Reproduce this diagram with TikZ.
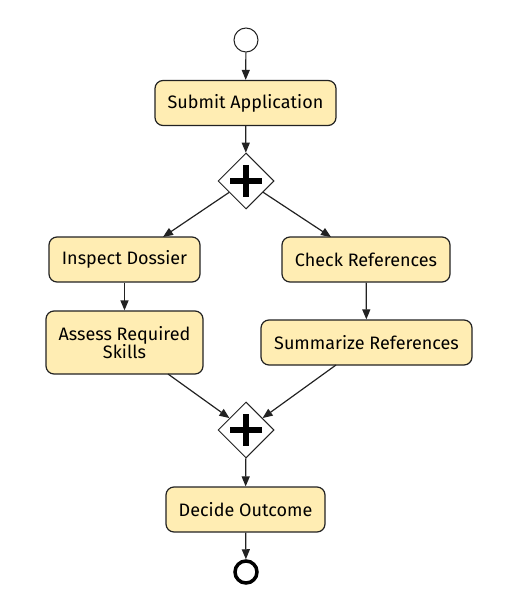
\documentclass[tikz,border=0pt]{standalone}
\usepackage{fontspec}
\setmainfont{Fira Sans}
\usetikzlibrary{arrows.meta,shapes.geometric}
\definecolor{taskfill}{HTML}{FFEDB3}
\definecolor{lineblk}{HTML}{222222}
\tikzset{
  task/.style={draw=lineblk, fill=taskfill, rounded corners=8pt, line width=1.2pt,
    align=center, inner sep=0pt, font=\fontsize{18}{18}\selectfont},
  gw/.style={draw=lineblk, fill=white, diamond, minimum width=56pt, minimum height=56pt, inner sep=0pt, line width=1pt},
  flow/.style={draw=lineblk, line width=1.2pt, -{Triangle[length=10pt,width=8pt]}},
  plusbar/.style={line width=6pt, black},
}
\begin{document}
\begin{tikzpicture}[x=1pt,y=-1pt]
\useasboundingbox (0,0) rectangle (512,612);
\node[draw=lineblk, circle, minimum size=24pt, inner sep=0pt, line width=1pt, fill=white] (start) at (246,40) {};
\node[task, minimum width=181pt, minimum height=45pt] (submit) at (245.5,103) {Submit Application};
\node[gw] (g1) at (246,181) {};
\draw[plusbar] (230,181) -- (262,181) (246,165) -- (246,197);
\node[task, minimum width=151pt, minimum height=45pt] (inspect) at (124.5,259.5) {Inspect Dossier};
\node[task, minimum width=168pt, minimum height=45pt] (check) at (366,259.5) {Check References};
\node[task, minimum width=157pt, minimum height=63pt] (assess) at (124.5,342.5) {Assess Required\\Skills};
\node[task, minimum width=211pt, minimum height=45pt] (summ) at (366.5,342.5) {Summarize References};
\node[gw] (g2) at (246,430) {};
\draw[plusbar] (230,430) -- (262,430) (246,414) -- (246,446);
\node[task, minimum width=159pt, minimum height=45pt] (decide) at (245.5,509.5) {Decide Outcome};
\node[draw=black, circle, minimum size=22pt, inner sep=0pt, line width=3.5pt, fill=white] (end) at (246,572) {};
\coordinate (insIn) at (163,237);
\coordinate (chkIn) at (331,237);
\coordinate (assOut) at (168,374);
\coordinate (sumOut) at (336,365);
\draw[flow] (start) -- (submit);
\draw[flow] (submit) -- (g1);
\draw[flow] (g1) -- (insIn);
\draw[flow] (g1) -- (chkIn);
\draw[flow] (inspect) -- (assess);
\draw[flow] (check) -- (summ);
\draw[flow] (assOut) -- (g2);
\draw[flow] (sumOut) -- (g2);
\draw[flow] (g2) -- (decide);
\draw[flow] (decide) -- (end);
\end{tikzpicture}
\end{document}
